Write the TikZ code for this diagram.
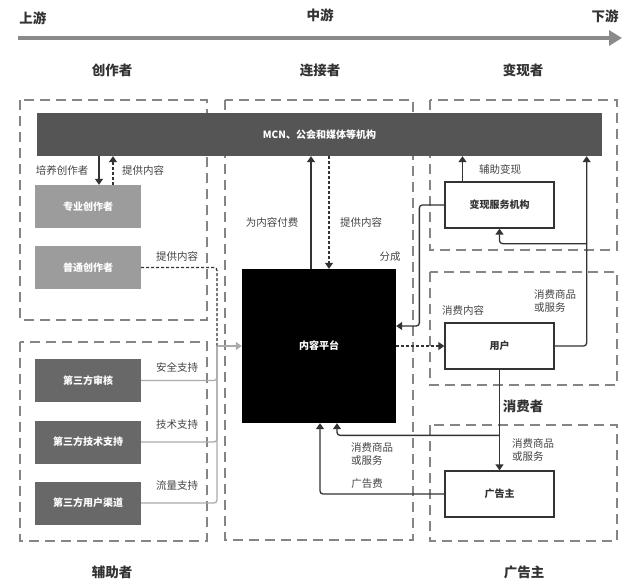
\documentclass[tikz,border=0pt]{standalone}
\usepackage{fontspec}
\setmainfont{Noto Sans CJK SC}
\usepackage{tikz}
\usetikzlibrary{arrows.meta}
\usepackage{xcolor}
\definecolor{bargray}{HTML}{555555}
\definecolor{lightbox}{HTML}{9C9C9C}
\definecolor{darkbox}{HTML}{686868}
\definecolor{zonegray}{HTML}{858585}
\definecolor{axisgray}{HTML}{8A8A8A}
\definecolor{linkgray}{HTML}{333333}
\definecolor{aidgray}{HTML}{ABABAB}
\definecolor{labelgray}{HTML}{444444}

\begin{document}
\begin{tikzpicture}[x=1pt, y=-1pt,
    region/.style={draw=zonegray, line width=1.4pt, dash pattern=on 10pt off 6pt},
    head/.style={text=linkgray, font=\bfseries\fontsize{13.5}{15}\selectfont, inner sep=0pt},
    lbl/.style={text=labelgray, font=\fontsize{10.5}{13}\selectfont, inner sep=0pt, align=left},
    boxtext/.style={font=\bfseries\fontsize{10}{12}\selectfont, inner sep=0pt},
    bar/.style={boxtext, fill=bargray, text=white, minimum width=565pt, minimum height=43pt},
    lightblk/.style={boxtext, fill=lightbox, text=white, minimum width=106pt, minimum height=43pt},
    darkblk/.style={boxtext, fill=darkbox, text=white, minimum width=106pt, minimum height=43pt},
    platblk/.style={boxtext, fill=black, text=white, minimum width=154pt, minimum height=154pt},
    whiteblk/.style={boxtext, draw=linkgray, line width=1.3pt, fill=white, text=linkgray, minimum width=109pt, minimum height=46pt},
    link/.style={draw=linkgray, line width=1.3pt, rounded corners=3pt, -{Triangle[length=6pt, width=8pt]}},
    dlink/.style={link, dash pattern=on 3pt off 2pt},
    aid/.style={draw=aidgray, line width=1.3pt, rounded corners=3pt},
    axis/.style={draw=axisgray, line width=4pt, -{Triangle[length=13pt, width=15pt]}}
  ]
  \useasboundingbox (0,0) rectangle (640,586);

  \node[head] (up)   at (33,18)  {上游};
  \node[head] (mid)  at (320,15) {中游};
  \node[head] (down) at (605,16) {下游};
  \coordinate (axl) at (18,38);
  \coordinate (axr) at (622,38);
  \draw[axis] (axl) -- (axr);

  \node[head] (hcre) at (112,70) {创作者};
  \node[head] (hcon) at (320,70) {连接者};
  \node[head] (hmon) at (523,70) {变现者};
  \node[head] (haux) at (112,572) {辅助者};
  \node[head] (hadv) at (524,572) {广告主};

  \draw[region] (20,100) rectangle (207,320);
  \draw[region] (20,342) rectangle (207,541);
  \draw[region] (225,100) rectangle (413,540);
  \draw[region] (430,100) rectangle (617,250);
  \draw[region] (430,272) rectangle (617,385);
  \draw[region] (430,425) rectangle (617,541);

  \node[bar] (mcn) at (319.5,134.5) {MCN、公会和媒体等机构};
  \node[lightblk] (pro) at (88,206.5) {专业创作者};
  \node[lightblk] (ord) at (88,267.5) {普通创作者};
  \node[darkblk] (audit) at (88,380.5) {第三方审核};
  \node[darkblk] (tech) at (88,442) {第三方技术支持};
  \node[darkblk] (chan) at (88,503) {第三方用户渠道};
  \node[platblk] (plat) at (319,346) {内容平台};
  \node[whiteblk] (serv) at (499.5,205) {变现服务机构};
  \node[whiteblk] (user) at (499.5,346) {用户};
  \node[whiteblk] (adv) at (499.5,494) {广告主};

  \coordinate (cpro1) at ([xshift=11pt]pro.north);
  \coordinate (cpro2) at ([xshift=25pt]pro.north);
  \draw[link] (cpro1 |- mcn.south) -- (cpro1);
  \draw[dlink] (cpro2) -- (cpro2 |- mcn.south);

  \coordinate (join) at (217,346);
  \draw[dlink, -] (ord.east) -| (join);
  \draw[aid] (audit.east) -| (join);
  \draw[aid] (tech.east) -| (join);
  \draw[aid] (chan.east) -| (join);
  \draw[aid, -{Triangle[length=6pt, width=8pt]}] (join) -- (plat.west);

  \coordinate (cplat1) at ([xshift=-8pt]plat.north);
  \coordinate (cplat2) at ([xshift=10pt]plat.north);
  \draw[link] (cplat1) -- (cplat1 |- mcn.south);
  \draw[dlink] (cplat2 |- mcn.south) -- (cplat2);

  \coordinate (cserv) at ([xshift=-37pt]serv.north);
  \draw[link] (cserv) -- (cserv |- mcn.south);
  \coordinate (share) at ([yshift=20pt]plat.east);
  \draw[link] (serv.west) -- ++(-25,0) |- (share);

  \draw[dlink] (plat.east) -- (user.west);

  \draw[link] (user.east) -- ++(32,0) coordinate (ubend) -- (ubend |- mcn.south);
  \coordinate (sbr) at ([yshift=-15pt]serv.south);
  \draw[link] (sbr -| ubend) -- (sbr) -- (serv.south);

  \draw[link] (user.south) -- (adv.north);
  \coordinate (ubr) at ([yshift=35pt]adv.north);
  \coordinate (cplat3) at ([xshift=18pt]plat.south);
  \coordinate (cplat4) at ([xshift=1pt]plat.south);
  \draw[link] (ubr) -| (cplat3);
  \draw[link] (adv.west) -| (cplat4);

  \node[lbl] (t1) at (62,170) {培养创作者};
  \node[lbl] (t2) at (143,170) {提供内容};
  \node[lbl] (t3) at (177,256) {提供内容};
  \node[lbl] (t4) at (177,367) {安全支持};
  \node[lbl] (t5) at (177,425) {技术支持};
  \node[lbl] (t6) at (177,486) {流量支持};
  \node[lbl] (t7) at (272,222) {为内容付费};
  \node[lbl] (t8) at (361,222) {提供内容};
  \node[lbl] (t9) at (390,257) {分成};
  \node[lbl] (t10) at (500,169) {辅助变现};
  \node[lbl] (t11) at (463,310) {消费内容};
  \node[lbl] (t12) at (555,301) {消费商品\\或服务};
  \node[head] (t13) at (523,406) {消费者};
  \node[lbl] (t14) at (533,450) {消费商品\\或服务};
  \node[lbl] (t15) at (372,454) {消费商品\\或服务};
  \node[lbl] (t16) at (367,484) {广告费};
\end{tikzpicture}
\end{document}
